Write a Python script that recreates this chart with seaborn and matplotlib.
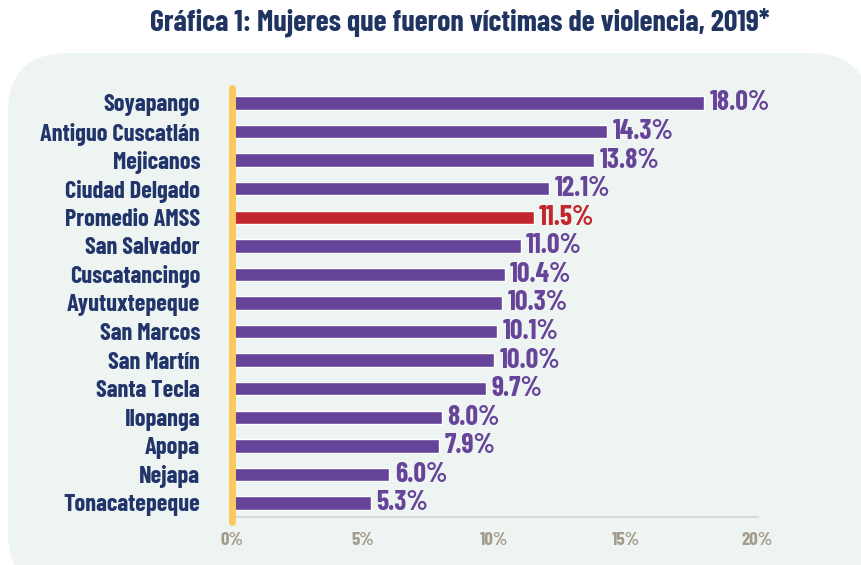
import matplotlib
matplotlib.use("Agg")
import matplotlib.pyplot as plt
import seaborn as sns
import pandas as pd
from matplotlib.patches import FancyBboxPatch

# ──────────────────────────────
# Data
# ──────────────────────────────
municipios = [
    "Soyapango", "Antiguo Cuscatlán", "Mejicanos", "Ciudad Delgado",
    "Promedio AMSS", "San Salvador", "Cuscatancingo", "Ayutuxtepeque",
    "San Marcos", "San Martín", "Santa Tecla", "Ilopanga", "Apopa",
    "Nejapa", "Tonacatepeque",
]
porcentajes = [18.0, 14.3, 13.8, 12.1, 11.5, 11.0, 10.4, 10.3,
               10.1, 10.0, 9.7, 8.0, 7.9, 6.0, 5.3]
ticks = [0, 5, 10, 15, 20]
tick_labels = ["0%", "5%", "10%", "15%", "20%"]

PURPLE = "#654499"
RED = "#c1272d"
NAVY = "#22356b"
YELLOW = "#fcc95e"
PANEL = "#eef4f1"
TICK_GRAY = "#a39c8c"

df = pd.DataFrame({"municipio": municipios, "pct": porcentajes})
colores = [RED if m == "Promedio AMSS" else PURPLE for m in municipios]

sns.set_theme(style="white")
plt.rcParams["font.family"] = ["Barlow Condensed", "DejaVu Sans"]

fig = plt.figure(figsize=(8.62, 5.65), dpi=100)
fig.patch.set_facecolor("white")

# fondo del panel con esquinas redondeadas
panel = FancyBboxPatch((8 / 862, -0.05), 1.0, 1 - 53 / 565 + 0.05,
                       boxstyle="round,pad=0,rounding_size=0.07",
                       transform=fig.transFigure, facecolor=PANEL,
                       edgecolor="none", zorder=-5, mutation_aspect=862 / 565)
fig.patches.append(panel)

ax = fig.add_axes([232 / 862, 1 - 517 / 565, (758 - 232) / 862, (517 - 88) / 565])
ax.set_facecolor("none")
ax.set_zorder(2)

sns.barplot(data=df, x="pct", y="municipio", hue="municipio",
            palette=colores, legend=False, width=0.47, ax=ax,
            saturation=1, zorder=3)

ax.set_xlim(0, 20.05)
ax.set_ylim(14.49, -0.525)
ax.set_xticks(ticks)
ax.set_xticklabels(tick_labels, fontsize=13.5, fontweight="bold", color=TICK_GRAY)
ax.tick_params(axis="x", direction="in", length=6, width=1, color="#d3d3d3", pad=11)
ax.tick_params(axis="y", length=0, pad=23)
for lbl in ax.get_yticklabels():
    lbl.set_fontsize(17.5)
    lbl.set_fontweight("bold")
    lbl.set_color(NAVY)
ax.set_xlabel("")
ax.set_ylabel("")

for s in ["top", "right", "left"]:
    ax.spines[s].set_visible(False)
ax.spines["bottom"].set_color("#d3d3d3")
ax.spines["bottom"].set_linewidth(1.2)

# línea amarilla en 0
ax.axvline(0, color=YELLOW, lw=5, zorder=4, ymin=-0.012, ymax=1, clip_on=False)

for i, (v, c) in enumerate(zip(porcentajes, colores)):
    ax.text(v + 0.2, i, f"{v:.1f}%", va="center", ha="left",
            fontsize=20, fontweight="bold", color=c, zorder=5)

fig.text(460 / 862, 1 - 22 / 565, "Gráfica 1: Mujeres que fueron víctimas de violencia, 2019*",
         ha="center", va="center", fontsize=21.5, fontweight="bold", color="#1f3461")

fig.savefig("out.png", dpi=100)
